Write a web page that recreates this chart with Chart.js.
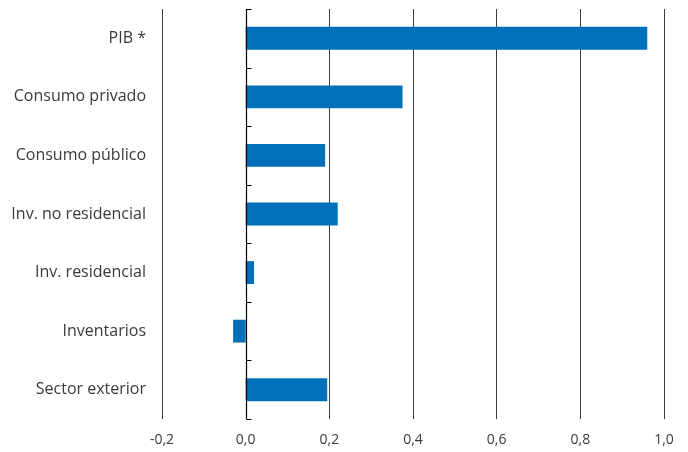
<!DOCTYPE html>
<html lang="es">
<head>
<meta charset="utf-8">
<title>Contribuciones al crecimiento del PIB</title>
<script src="https://cdn.jsdelivr.net/npm/chart.js@4/dist/chart.umd.min.js"></script>
<style>
  html, body { margin: 0; padding: 0; background: #fff; }
  #wrap { width: 688px; height: 452px; }
</style>
</head>
<body>
<div id="wrap"><canvas id="chart" width="688" height="452"></canvas></div>
<script>
// Componentes de demanda y su contribución (p.p.)
const categories = [
  'PIB *',
  'Consumo privado',
  'Consumo público',
  'Inv. no residencial',
  'Inv. residencial',
  'Inventarios',
  'Sector exterior'
];
const contributions = [0.96, 0.375, 0.19, 0.22, 0.02, -0.03, 0.195];
const xTickLabels = ['-0,2', '0,0', '0,2', '0,4', '0,6', '0,8', '1,0'];
const xMin = -0.2, xMax = 1.0, xStep = 0.2;

const BAR_BLUE = '#0070b9';
const TEXT = '#3a3a3a';

// Eje del cero con marcas en los límites de cada categoría
const zeroAxis = {
  id: 'zeroAxis',
  afterDatasetsDraw(chart) {
    const { ctx, chartArea, scales: { x, y } } = chart;
    const x0 = Math.round(x.getPixelForValue(0)) + 0.5;
    ctx.save();
    ctx.strokeStyle = '#000';
    ctx.lineWidth = 1.2;
    ctx.beginPath();
    ctx.moveTo(x0, chartArea.top);
    ctx.lineTo(x0, chartArea.bottom);
    for (let i = 0; i <= categories.length; i++) {
      const yy = Math.round(y.getPixelForValue(i - 0.5)) + 0.5;
      ctx.moveTo(x0, yy);
      ctx.lineTo(x0 + 5, yy);
    }
    ctx.stroke();
    ctx.restore();
  }
};

new Chart(document.getElementById('chart'), {
  type: 'bar',
  data: {
    labels: categories,
    datasets: [{
      data: contributions,
      backgroundColor: BAR_BLUE,
      borderWidth: 0,
      barPercentage: 0.39,
      categoryPercentage: 1.0
    }]
  },
  options: {
    indexAxis: 'y',
    responsive: false,
    animation: false,
    layout: { padding: { top: 9, right: 24, bottom: 0, left: 0 } },
    plugins: {
      legend: { display: false },
      tooltip: { enabled: false }
    },
    scales: {
      x: {
        type: 'linear',
        min: xMin,
        max: xMax,
        border: { display: false },
        grid: {
          drawTicks: false,
          lineWidth: 1,
          color: (c) => (c.tick && Math.abs(c.tick.value) < 1e-9) ? 'rgba(0,0,0,0)' : '#3c3c3c'
        },
        ticks: {
          stepSize: xStep,
          padding: 13,
          color: TEXT,
          font: { family: '"Open Sans", sans-serif', size: 14 },
          callback: (value, index) => xTickLabels[index]
        },
        afterFit: (scale) => { scale.height = 33; }
      },
      y: {
        border: { display: false },
        grid: { display: false, drawTicks: false },
        ticks: {
          padding: 16,
          color: TEXT,
          font: { family: '"Open Sans", sans-serif', size: 16 }
        },
        afterFit: (scale) => {
          scale.width = 162;
          scale.paddingTop = 0;
          scale.paddingBottom = 0;
        }
      }
    }
  },
  plugins: [zeroAxis]
});
</script>
</body>
</html>
